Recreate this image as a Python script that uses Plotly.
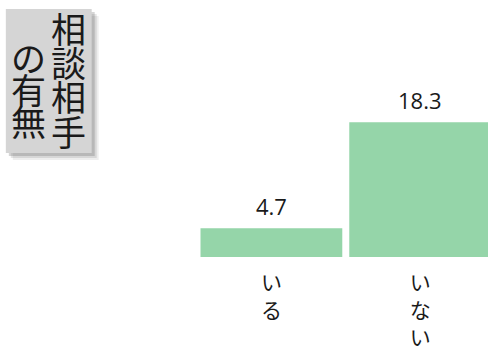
import plotly.graph_objects as go

categories = ["いる", "いない"]
tick_labels = ["い<br>る", "い<br>な<br>い"]
values = [4.7, 18.3]
title_col1 = ["相", "談", "相", "手"]
title_col2 = ["の", "有", "無"]

W, H = 488, 350
L, R, T, B = 196.5, 488.0, 109.0, 257.0
FONT = "Noto Sans CJK JP"
NUMFONT = "Open Sans"
BAR = "#95d5a9"
TXT = "#1a1a1a"

def px(x):
    return (x - L) / (R - L)

def py(y):
    return (B - y) / (B - T)

fig = go.Figure()
fig.add_trace(go.Bar(
    x=categories, y=values,
    marker=dict(color=BAR, line=dict(width=0)),
    hoverinfo="skip",
))

for c, v in zip(categories, values):
    fig.add_annotation(
        x=c, y=v, xref="x", yref="y", text=f"{v:.1f}",
        showarrow=False, yanchor="bottom", yshift=5,
        font=dict(family=NUMFONT, size=22, color=TXT),
    )

shapes = []
for off, op in [(7, 0.10), (5, 0.15), (3, 0.25)]:
    shapes.append(dict(type="rect", xref="paper", yref="paper",
                       x0=px(5 + off), x1=px(91 + off), y0=py(153 + off), y1=py(9 + off),
                       fillcolor=f"rgba(90,90,90,{op})", line=dict(width=0), layer="below"))
shapes.append(dict(type="rect", xref="paper", yref="paper",
                   x0=px(5), x1=px(91), y0=py(153), y1=py(9),
                   fillcolor="#d5d5d5", line=dict(width=0), layer="below"))

# vertical title: one character per row
for i, ch in enumerate(title_col1):
    fig.add_annotation(x=px(68), y=py(27 + i * 34.5), xref="paper", yref="paper", text=ch,
                       showarrow=False, xanchor="center", yanchor="middle",
                       font=dict(family=FONT, size=35, color=TXT))
for i, ch in enumerate(title_col2):
    fig.add_annotation(x=px(28), y=py(56 + i * 32), xref="paper", yref="paper", text=ch,
                       showarrow=False, xanchor="center", yanchor="middle",
                       font=dict(family=FONT, size=35, color=TXT))

fig.update_layout(
    width=W, height=H,
    margin=dict(l=L, r=W - R, t=T, b=H - B, pad=0),
    paper_bgcolor="white", plot_bgcolor="white",
    showlegend=False, bargap=0.047,
    shapes=shapes,
    font=dict(family=FONT, color=TXT),
    xaxis=dict(range=[-0.5, 1.456], tickmode="array", tickvals=categories, ticktext=tick_labels,
               showgrid=False, showline=False, zeroline=False, ticks="outside", ticklen=7,
               automargin=False, fixedrange=True,
               tickcolor="rgba(0,0,0,0)", tickfont=dict(family=FONT, size=21, color=TXT)),
    yaxis=dict(range=[1, 20], visible=False, showgrid=False, zeroline=False,
               automargin=False, fixedrange=True),
)

fig.write_html("out.html", config={"displayModeBar": False},
               post_script="document.body.style.margin='0';document.body.style.overflow='hidden';")
